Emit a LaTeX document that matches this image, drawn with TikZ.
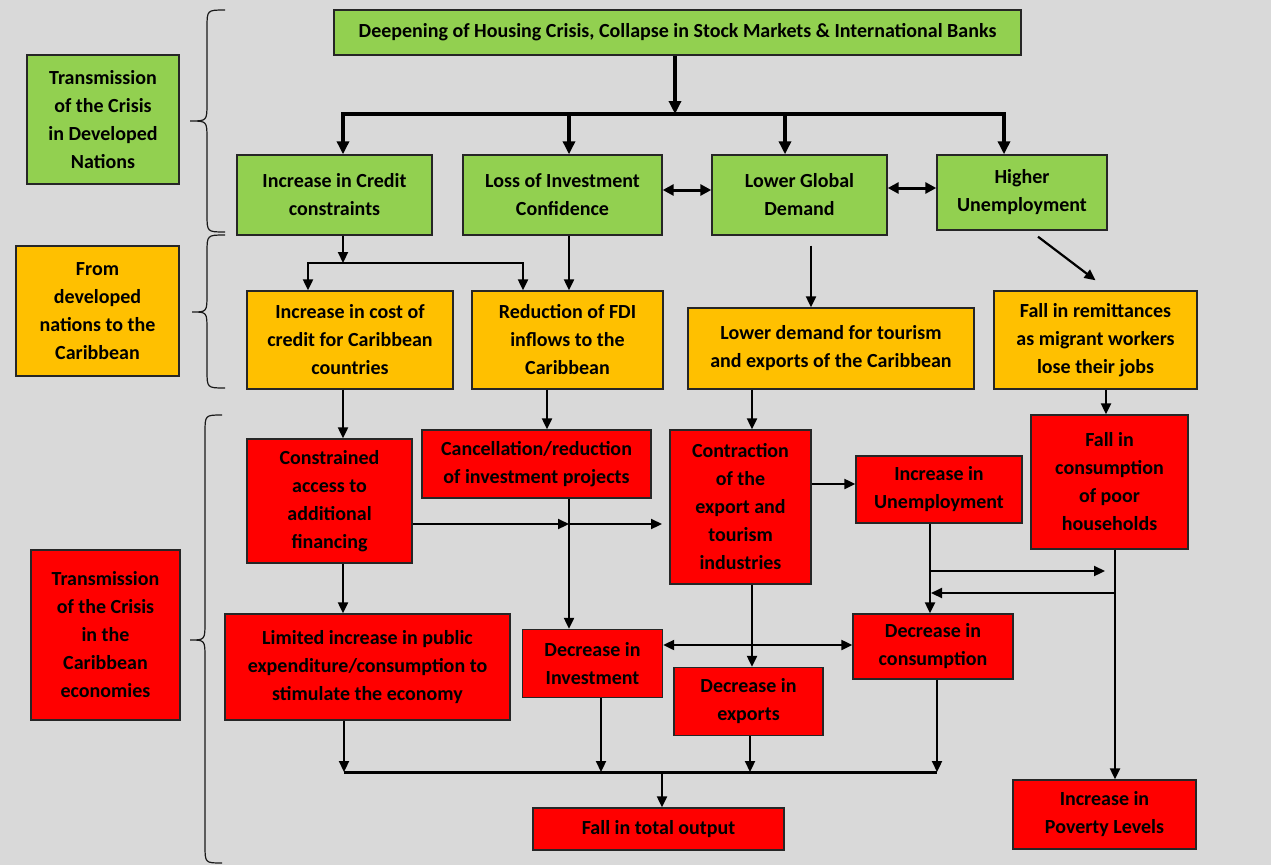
\documentclass[tikz,border=0pt]{standalone}
\usepackage{fontspec}
\setmainfont{Carlito}
\usetikzlibrary{arrows.meta}
\definecolor{bg}{HTML}{D9D9D9}
\definecolor{gr}{HTML}{92D050}
\definecolor{og}{HTML}{FFC000}
\definecolor{rd}{HTML}{FF0000}
\begin{document}
\begin{tikzpicture}[x=1pt,y=-1pt,
  box/.style={draw=black!85, line width=1.4pt, align=center, inner sep=0pt,
    font=\fontsize{20}{28}\selectfont\bfseries},
  gbox/.style={box, fill=gr},
  obox/.style={box, fill=og},
  rbox/.style={box, fill=rd},
  ln/.style={line width=2.2pt},
  tln/.style={line width=3.5pt},
  arr/.style={line width=2.2pt, -{Triangle[length=11pt,width=10pt]}},
  darr/.style={line width=2.2pt, {Triangle[length=11pt,width=10pt]}-{Triangle[length=11pt,width=10pt]}},
  tarr/.style={line width=3.5pt, -{Triangle[length=13pt,width=12pt]}},
  tdarr/.style={line width=3pt, {Triangle[length=11pt,width=11pt]}-{Triangle[length=11pt,width=11pt]}},
  brc/.style={line width=1.2pt, black!90}
]
\useasboundingbox (0,0) rectangle (1271,865);
\fill[bg] (0,0) rectangle (1271,865);

% braces
\draw[brc] (225,10) .. controls (207,10) .. (207,28) -- (207,103) .. controls (207,121) .. (190,121)
  .. controls (207,121) .. (207,139) -- (207,214) .. controls (207,232) .. (225,232);
\draw[brc] (225,235) .. controls (207,235) .. (207,253) -- (207,294) .. controls (207,312) .. (192,312)
  .. controls (207,312) .. (207,330) -- (207,370) .. controls (207,388) .. (225,388);
\draw[brc] (222,415) .. controls (205,415) .. (205,433) -- (205,622) .. controls (205,640) .. (190,640)
  .. controls (205,640) .. (205,658) -- (205,845) .. controls (205,863) .. (222,863);

% left labels
\node[gbox, minimum width=152pt, minimum height=129pt] (T1) at (103,119.5) {Transmission\\of the Crisis\\in Developed\\Nations};
\node[obox, minimum width=163pt, minimum height=130pt] (T2) at (97.5,311) {From\\developed\\nations to the\\Caribbean};
\node[rbox, minimum width=149pt, minimum height=170pt] (T3) at (105.5,635) {Transmission\\of the Crisis\\in the\\Caribbean\\economies};

% top
\node[gbox, minimum width=687pt, minimum height=45pt] (top) at (677.5,32.5) {Deepening of Housing Crisis, Collapse in Stock Markets \& International Banks};

% green row
\node[gbox, minimum width=195pt, minimum height=80pt] (G1) at (334.5,195) {Increase in Credit\\constraints};
\node[gbox, minimum width=199pt, minimum height=80pt] (G2) at (562.5,195) {Loss of Investment\\Confidence};
\node[gbox, minimum width=175pt, minimum height=80pt] (G3) at (799.5,195) {Lower Global\\Demand};
\node[gbox, minimum width=170pt, minimum height=75pt] (G4) at (1022,192.5) {Higher\\Unemployment};

% orange row
\node[obox, minimum width=206pt, minimum height=98pt] (O1) at (350,340) {Increase in cost of\\credit for Caribbean\\countries};
\node[obox, minimum width=191pt, minimum height=98pt] (O2) at (567.5,340) {Reduction of FDI\\inflows to the\\Caribbean};
\node[obox, minimum width=286pt, minimum height=81pt] (O3) at (831,348.5) {Lower demand for tourism\\and exports of the Caribbean};
\node[obox, minimum width=203pt, minimum height=98pt] (O4) at (1095.5,340) {Fall in remittances\\as migrant workers\\lose their jobs};

% red rows
\node[rbox, minimum width=165pt, minimum height=124pt] (R1) at (329.5,501) {Constrained\\access to\\additional\\financing};
\node[rbox, minimum width=229pt, minimum height=68pt] (R2) at (536.5,464) {Cancellation/reduction\\of investment projects};
\node[rbox, minimum width=141pt, minimum height=154pt] (R3) at (740.5,507) {Contraction\\of the\\export and\\tourism\\industries};
\node[rbox, minimum width=166pt, minimum height=67pt] (R4) at (939,489.5) {Increase in\\Unemployment};
\node[rbox, minimum width=157pt, minimum height=134pt] (R5) at (1109.5,482) {Fall in\\consumption\\of poor\\households};

\node[rbox, minimum width=285pt, minimum height=106pt] (L1) at (367.5,667) {Limited increase in public\\expenditure/consumption to\\stimulate the economy};
\node[rbox, minimum width=140pt, minimum height=68pt] (D1) at (592.5,663.5) {Decrease in\\Investment};
\node[rbox, minimum width=149pt, minimum height=68pt] (D2) at (748.5,701.5) {Decrease in\\exports};
\node[rbox, minimum width=160pt, minimum height=65pt] (D3) at (933,646.5) {Decrease in\\consumption};
\node[rbox, minimum width=251pt, minimum height=42pt] (F) at (658.5,829) {Fall in total output};
\node[rbox, minimum width=183pt, minimum height=69pt] (P) at (1104.5,814.5) {Increase in\\Poverty Levels};

% helper coordinates
\coordinate (jTop) at (675,114);
\coordinate (bL) at (343,114);
\coordinate (b2) at (569,114);
\coordinate (b3) at (785,114);
\coordinate (bR) at (1004,114);
\coordinate (c1) at (343,263);
\coordinate (c1L) at (308,263);
\coordinate (c1R) at (523,263);
\coordinate (x569) at (569,0);
\coordinate (x811) at (811,0);
\coordinate (x343) at (343,0);
\coordinate (x547) at (547,0);
\coordinate (x752) at (752,0);
\coordinate (x1106) at (1106,0);
\coordinate (m1) at (569,524);
\coordinate (m2) at (662,524);
\coordinate (y484) at (0,484);
\coordinate (y645) at (0,645);
\coordinate (x930) at (930,0);
\coordinate (u1) at (930,571);
\coordinate (u2) at (1105,571);
\coordinate (v1) at (1115,593);
\coordinate (v2) at (931,593);
\coordinate (x1115) at (1115,0);
\coordinate (bus) at (0,772);
\coordinate (x344) at (344,0);
\coordinate (x601) at (601,0);
\coordinate (x750) at (750,0);
\coordinate (x937) at (937,0);
\coordinate (x662) at (662,0);

% top connectors
\draw[tarr] (top.south -| jTop) -- (jTop);
\draw[tln, line cap=rect] (bL) -- (bR);
\draw[tarr] (bL) -- (bL |- G1.north);
\draw[tarr] (b2) -- (b2 |- G2.north);
\draw[tarr] (b3) -- (b3 |- G3.north);
\draw[tarr] (bR) -- (bR |- G4.north);
\draw[tdarr] (G2.east |- 0,190) -- (G3.west |- 0,190);
\draw[tdarr] (G3.east |- 0,188) -- (G4.west |- 0,188);

% green -> orange
\draw[arr] (G1.south -| c1) -- (c1);
\draw[ln, line cap=rect] (c1L) -- (c1R);
\draw[arr] (c1L) -- (c1L |- O1.north);
\draw[arr] (c1R) -- (c1R |- O2.north);
\draw[arr] (G2.south -| x569) -- (O2.north -| x569);
\draw[arr, shorten <=10pt] (G3.south -| x811) -- (O3.north -| x811);
\draw[arr] ([shift={(16,6)}]G4.south) -- ([shift={(0,-10)}]O4.north);

% orange -> red
\draw[arr] (O1.south -| x343) -- (R1.north -| x343);
\draw[arr] (O2.south -| x547) -- (R2.north -| x547);
\draw[arr] (O3.south -| x752) -- (R3.north -| x752);
\draw[arr] (O4.south -| x1106) -- (R5.north -| x1106);

% red network
\draw[arr] (R1.east |- m1) -- (m1);
\draw[arr] (m1) -- (m2);
\draw[arr] (R2.south -| x569) -- (D1.north -| x569);
\draw[arr] (R3.east |- y484) -- (R4.west |- y484);
\draw[arr] (R3.south -| x752) -- (D2.north -| x752);
\draw[darr] (D1.east |- y645) -- (D3.west |- y645);
\draw[arr] (R4.south -| x930) -- (D3.north -| x930);
\draw[arr] (u1) -- (u2);
\draw[arr] (R5.south -| x1115) -- (P.north -| x1115);
\draw[arr] (v1) -- (v2);
\draw[arr] (R1.south -| x343) -- (L1.north -| x343);

% bottom bus
\draw[arr] (L1.south -| x344) -- (x344 |- bus);
\draw[arr] (D1.south -| x601) -- (x601 |- bus);
\draw[arr] (D2.south -| x750) -- (x750 |- bus);
\draw[arr] (D3.south -| x937) -- (x937 |- bus);
\draw[line width=3pt] (x344 |- bus) -- (x937 |- bus);
\draw[arr] (x662 |- bus) -- (F.north -| x662);
\end{tikzpicture}
\end{document}
